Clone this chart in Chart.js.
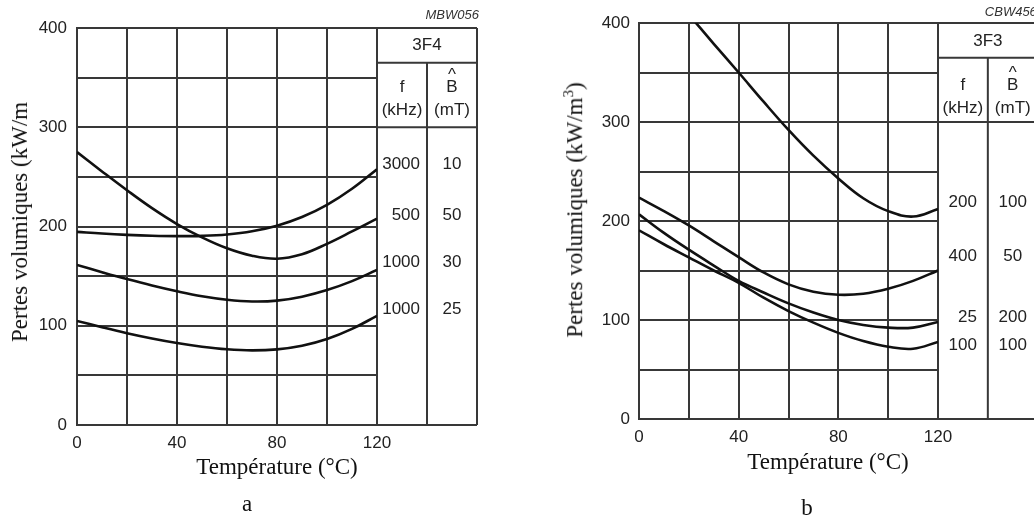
<!DOCTYPE html>
<html>
<head>
<meta charset="utf-8">
<script src="https://cdn.jsdelivr.net/npm/chart.js@4.4.1/dist/chart.umd.min.js"></script>
<style>
  body { margin: 0; background: #fff; width: 1034px; height: 519px; position: relative; overflow: hidden; }
  canvas { position: absolute; top: 0; }
  .serif { position: absolute; font-family: "Liberation Serif", "Times New Roman", serif; font-size: 23px; color: #111; white-space: nowrap; }
  .ytitle { transform: translate(-50%, -50%) rotate(-90deg); }
  .xtitle { transform: translate(-50%, -50%); }
</style>
</head>
<body>
<canvas id="chartA" width="500" height="519" style="left:0;width:500px;height:519px"></canvas>
<canvas id="chartB" width="517" height="519" style="left:517px;width:517px;height:519px"></canvas>

<div class="serif ytitle" style="left:20px;top:222px">Pertes volumiques (kW/m</div>
<div class="serif xtitle" style="left:277px;top:467px">Température (°C)</div>
<div class="serif xtitle" style="left:247px;top:504px">a</div>

<div class="serif ytitle" style="left:574px;top:210px">Pertes volumiques (kW/m<sup style="font-size:15px">3</sup>)</div>
<div class="serif xtitle" style="left:828px;top:462px">Température (°C)</div>
<div class="serif xtitle" style="left:807px;top:508px">b</div>

<script>
// temperatures (°C) where the curves were read
const temps = [0, 10, 20, 30, 40, 50, 60, 70, 80, 90, 100, 110, 120];

// chart a : 3F4 (kW/m3)
const a3000_10 = [194.6, 192.9, 191.6, 190.7, 190.3, 190.6, 192.0, 195.2, 200.8, 209.5, 221.8, 238, 257.7];
const a500_50 = [275, 255.5, 236.5, 218.5, 202.5, 189, 178, 170.5, 167.5, 172, 182.5, 195, 208];
const a1000_30 = [161.3, 154, 147, 140.5, 134.7, 129.7, 126.2, 124.5, 125.3, 129.3, 136, 145, 156.3];
const a1000_25 = [104.9, 98.5, 92.5, 87.2, 82.6, 78.9, 76.3, 75.2, 76.2, 79.8, 86.6, 96.8, 110];

// chart b : 3F3
const b200_100 = [null, null, 408.5, 379, 350, 320.5, 292, 266, 243, 223, 210, 204.5, 212];
const b400_50 = [223.6, 210, 195.5, 179.5, 163.5, 148, 136, 128.5, 125.5, 126.5, 131.5, 139.5, 150];
const b25_200 = [206.8, 188, 171, 155, 139.5, 127.8, 116.8, 107.5, 100, 95, 92.3, 92.3, 98];
const b100_100 = [190.6, 176.5, 163.2, 150, 137.5, 122.5, 109, 97.3, 87, 78.7, 73, 71, 77.8];

// legend tables
const freqA = ["3000", "500", "1000", "1000"];
const fluxA = ["10", "50", "30", "25"];
const freqB = ["200", "400", "25", "100"];
const fluxB = ["100", "50", "200", "100"];
const xTicks = [0, 40, 80, 120];
const yTicks = [0, 100, 200, 300, 400];

const INK = "#222";
const GRID = "#383838";

function points(vals) {
  return temps.map((t, i) => ({ x: t, y: vals[i] }));
}

function lineSet(vals) {
  return {
    data: points(vals),
    borderColor: "#111",
    borderWidth: 2.6,
    pointRadius: 0,
    tension: 0.4,
    fill: false,
  };
}

// draws the material table to the right of the plot (x 120..160 in axis units)
function tablePlugin(t) {
  return {
    id: "table",
    afterDraw(chart) {
      const ctx = chart.ctx;
      const xs = chart.scales.x, ys = chart.scales.y;
      const x0 = xs.getPixelForValue(120), x1 = xs.getPixelForValue(140), x2 = xs.getPixelForValue(160);
      const py = (v) => ys.getPixelForValue(v);
      ctx.save();
      ctx.strokeStyle = GRID;
      ctx.lineWidth = 2;
      ctx.beginPath();
      [400, 365, 300, 0].forEach((v) => { ctx.moveTo(x0, py(v)); ctx.lineTo(x2, py(v)); });
      ctx.moveTo(x2, py(400)); ctx.lineTo(x2, py(0));
      ctx.moveTo(x1, py(365)); ctx.lineTo(x1, py(0));
      ctx.stroke();

      ctx.fillStyle = INK;
      ctx.textBaseline = "middle";
      ctx.font = "17px 'Liberation Sans', Arial, sans-serif";
      ctx.textAlign = "center";
      ctx.fillText(t.name, (x0 + x2) / 2, py(t.nameY));
      ctx.fillText("f", (x0 + x1) / 2, py(t.headY));
      ctx.fillText("(kHz)", (x0 + x1) / 2, py(t.headY) + 23);
      ctx.fillText("B", (x1 + x2) / 2, py(t.headY));
      ctx.fillText("^", (x1 + x2) / 2, py(t.headY) - 12);
      ctx.fillText("(mT)", (x1 + x2) / 2, py(t.headY) + 23);
      t.freq.forEach((s, i) => {
        ctx.textAlign = "right";
        ctx.fillText(s, x1 - t.pad, py(t.rows[i]));
        ctx.textAlign = "center";
        ctx.fillText(t.flux[i], (x1 + x2) / 2, py(t.rows[i]));
      });

      ctx.font = "italic 13px 'Liberation Sans', Arial, sans-serif";
      ctx.fillStyle = "#333";
      ctx.textAlign = t.codeAlign;
      ctx.fillText(t.code, t.codeAlign === "right" ? x2 + 2 : x1 - 3, py(400) - t.codeUp);
      ctx.restore();
    },
  };
}

function makeChart(id, sets, left, right, top, bottom, tickPad, table) {
  return new Chart(document.getElementById(id), {
    type: "line",
    data: { datasets: sets.map(lineSet) },
    options: {
      responsive: false,
      animation: false,
      layout: { padding: { top: top, right: right, left: 0, bottom: 0 } },
      plugins: { legend: { display: false }, tooltip: { enabled: false } },
      scales: {
        x: {
          type: "linear",
          min: 0,
          max: 120,
          afterFit: (s) => { s.height = bottom; },
          grid: { color: GRID, lineWidth: 2, drawTicks: false },
          border: { color: GRID, width: 2 },
          ticks: {
            stepSize: 20,
            padding: 8,
            color: INK,
            font: { family: "'Liberation Sans', Arial, sans-serif", size: 17 },
            callback: (v) => (xTicks.includes(v) ? v : ""),
            maxRotation: 0,
          },
        },
        y: {
          min: 0,
          max: 400,
          afterFit: (s) => { s.width = left; },
          grid: { color: GRID, lineWidth: 2, drawTicks: false },
          border: { color: GRID, width: 2 },
          ticks: {
            stepSize: 50,
            padding: tickPad,
            color: INK,
            font: { family: "'Liberation Sans', Arial, sans-serif", size: 17 },
            callback: (v) => (yTicks.includes(v) ? v : ""),
          },
        },
      },
    },
    plugins: [tablePlugin(table)],
  });
}

makeChart("chartA", [a3000_10, a500_50, a1000_30, a1000_25], 77, 123, 28, 94, 10, {
  name: "3F4", nameY: 383, headY: 340, pad: 7, freq: freqA, flux: fluxA,
  rows: [263, 211, 164, 117], code: "MBW056", codeAlign: "right", codeUp: 13,
});

makeChart("chartB", [b200_100, b400_50, b25_200, b100_100], 122, 96, 23, 100, 9, {
  name: "3F3", nameY: 381, headY: 337, pad: 11, freq: freqB, flux: fluxB,
  rows: [219, 164, 103, 74], code: "CBW456", codeAlign: "left", codeUp: 11,
});
</script>
</body>
</html>
